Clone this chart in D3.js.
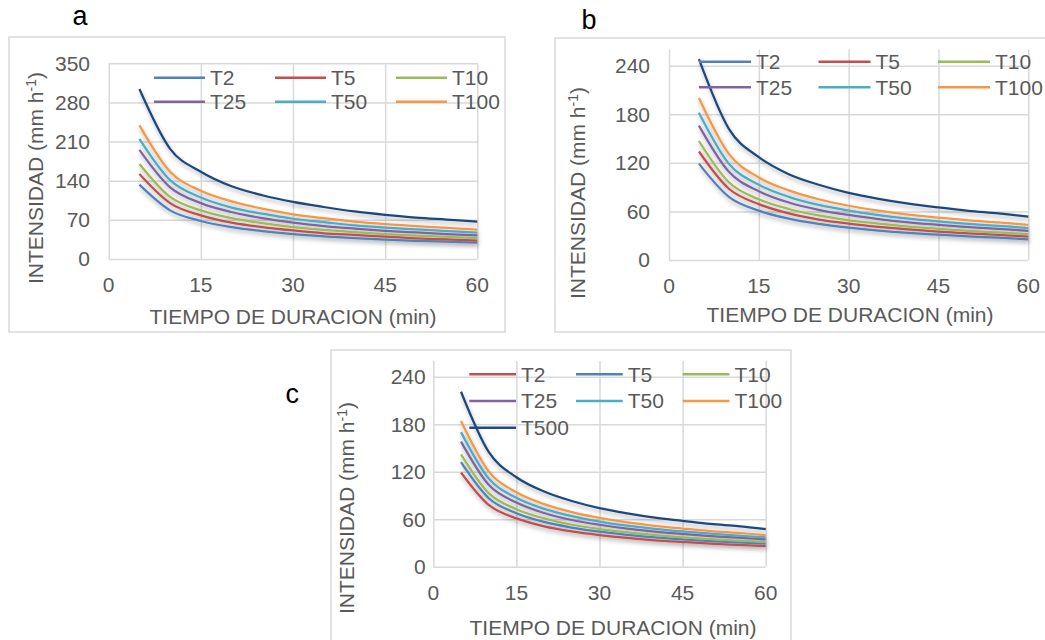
<!DOCTYPE html>
<html>
<head>
<meta charset="utf-8">
<script src="https://cdn.jsdelivr.net/npm/d3@7"></script>
<style>
  body { margin: 0; background: #fff; }
  svg { display: block; font-family: "Liberation Sans", Arial, sans-serif; }
</style>
</head>
<body>
<div id="chart-area"></div>
<script>
// durations (min) at which intensities were plotted
var durations = [5, 10, 15, 20, 25, 30, 35, 40, 45, 50, 55, 60]
var seriesNames = ["T2", "T5", "T10", "T25", "T50", "T100", "T500"]

// panel a, one row per return period (same order as seriesNames)
var intensityA = [
    [133, 87, 68, 57, 50, 44.6, 40.6, 37.4, 34.8, 32.6, 30.9, 29.4],
    [152, 100, 78, 65, 57, 51, 46, 43, 40, 37, 35, 33],
    [170, 111, 87, 73, 64, 57, 52, 48, 44.5, 42, 39.5, 37.5],
    [195, 128, 100, 84, 73, 65, 59, 54.5, 50.5, 47.5, 44.7, 42.3],
    [215, 141, 110, 92, 81, 72, 66, 60, 56, 53, 50, 47],
    [239, 156, 122, 103, 90, 80, 73, 67, 62.5, 59, 55.5, 52.5],
    [304, 197, 156, 130, 114, 102, 93, 85, 79, 74, 70.5, 67]
]
var intensityB = [
    [119, 78, 61, 51, 44.6, 40, 36.3, 33.4, 31.2, 29.2, 27.6, 25.6],
    [134, 88, 69, 57.5, 50, 45, 41, 37.7, 35, 33, 31, 29],
    [147, 96, 75, 63, 55, 49, 45, 41.3, 38.5, 36, 34, 32],
    [166, 109, 85, 71, 62, 55.6, 50.6, 46.6, 43.5, 40.7, 38.5, 36],
    [182, 119, 93, 78, 68, 61, 55.5, 51, 47.7, 44.6, 42.2, 39.5],
    [200, 131, 102, 86, 75, 67, 61, 56, 52.4, 49, 46.4, 43.5],
    [248, 162, 127, 106, 93, 83, 75.6, 69.7, 65, 60.8, 57.5, 53.5]
]
var intensityC = [
    [119, 78, 61, 51, 44.6, 40, 36.3, 33.4, 31.2, 29.2, 27.6, 26],
    [132, 86.5, 67.6, 56.6, 49.5, 44.2, 40.3, 37, 34.6, 32.3, 30.6, 29.3],
    [142, 93, 72.7, 61, 53, 47.6, 43.3, 40, 37.2, 34.8, 33, 31.5],
    [158, 103.5, 81, 67.8, 59, 53, 48.2, 44.4, 41.4, 38.7, 36.6, 34.6],
    [170, 111.5, 87, 73, 63.8, 57, 51.9, 47.8, 44.5, 41.7, 39.4, 37],
    [184, 120.5, 94, 79, 69, 61.6, 56, 51.7, 48.2, 45, 42.7, 40],
    [221, 145, 113, 95, 83, 74, 67.4, 62, 58, 54, 51.3, 47.6]
]

var xTicks = [0, 15, 30, 45, 60]
var yTicksA = [0, 70, 140, 210, 280, 350]
var yTicksBC = [0, 60, 120, 180, 240]
var legendAB = ["T2", "T5", "T10", "T25", "T50", "T100"]
var legendC = ["T2", "T5", "T10", "T25", "T50", "T100", "T500"]

var colorsAB = ["#4F81BD", "#C0504D", "#9BBB59", "#8064A2", "#4BACC6", "#F79646", "#1F497D"]
var colorsC = ["#C0504D", "#4F81BD", "#9BBB59", "#8064A2", "#4BACC6", "#F79646", "#1F497D"]

var gridColor = "#D9D9D9"
var textColor = "#595959"
var fontSize = 21

var svg = d3.select("#chart-area")
    .append("svg")
    .attr("width", 1045)
    .attr("height", 640)

var defs = svg.append("defs")
var shadow = defs.append("filter")
    .attr("id", "shadow")
    .attr("x", "-10%").attr("y", "-20%")
    .attr("width", "130%").attr("height", "160%")
shadow.append("feGaussianBlur").attr("in", "SourceAlpha").attr("stdDeviation", 2)
shadow.append("feOffset").attr("dx", 1).attr("dy", 3).attr("result", "off")
shadow.append("feComponentTransfer").append("feFuncA").attr("type", "linear").attr("slope", 0.3)
var merge = shadow.append("feMerge")
merge.append("feMergeNode")
merge.append("feMergeNode").attr("in", "SourceGraphic")

var panels = [
    {
        letter: "a", letterX: 72.5, letterY: 25,
        frame: [9, 37, 496, 295],
        left: 108.7, right: 477.3, top: 63.3, bottom: 259, yMax: 350,
        yTicks: yTicksA, yTickX: 90,
        xTitle: [293, 317], yTitle: [36, 178],
        data: intensityA, colors: colorsAB, legend: legendAB,
        legX: 154, legStep: 121, legY: 77.7, legRow: 24, legLen: 51
    },
    {
        letter: "b", letterX: 581.5, letterY: 29,
        frame: [555, 38, 500, 294],
        left: 669, right: 1028.3, top: 49.5, bottom: 260, yMax: 260,
        yTicks: yTicksBC, yTickX: 650,
        xTitle: [850, 315], yTitle: [578, 193],
        data: intensityB, colors: colorsAB, legend: legendAB,
        legX: 699, legStep: 119.5, legY: 61.7, legRow: 25.6, legLen: 52
    },
    {
        letter: "c", letterX: 285.5, letterY: 403,
        frame: [331, 350, 460, 300],
        left: 433.3, right: 765.7, top: 360.9, bottom: 566.7, yMax: 260,
        yTicks: yTicksBC, yTickX: 425.7,
        xTitle: [613, 628], yTitle: [347, 508],
        data: intensityC, colors: colorsC, legend: legendC,
        legX: 469.3, legStep: 106.7, legY: 374.3, legRow: 26.7, legLen: 46.7
    }
]

panels.forEach(function(p){
    var g = svg.append("g")

    g.append("rect")
        .attr("x", p.frame[0]).attr("y", p.frame[1])
        .attr("width", p.frame[2]).attr("height", p.frame[3])
        .attr("fill", "#fff")
        .attr("stroke", gridColor)
        .attr("stroke-width", 1.5)

    g.append("text")
        .attr("x", p.letterX).attr("y", p.letterY)
        .attr("font-size", 27)
        .attr("fill", "#000")
        .text(p.letter)

    var x = d3.scaleLinear().domain([0, 60]).range([p.left, p.right])
    var y = d3.scaleLinear().domain([0, p.yMax]).range([p.bottom, p.top])

    // gridlines
    var xGrid = d3.axisBottom(x).tickValues(xTicks)
        .tickSize(-(p.bottom - p.top)).tickFormat("")
    var yGrid = d3.axisLeft(y).tickValues(p.yTicks)
        .tickSize(-(p.right - p.left)).tickFormat("")

    g.append("g")
        .attr("transform", "translate(0," + p.bottom + ")")
        .call(xGrid)
    g.append("g")
        .attr("transform", "translate(" + p.left + ",0)")
        .call(yGrid)
    g.selectAll(".domain").remove()
    g.selectAll(".tick line")
        .attr("stroke", gridColor)
        .attr("stroke-width", 1.5)

    // tick labels
    g.selectAll(".ylab")
        .data(p.yTicks)
        .enter().append("text")
        .attr("x", p.yTickX)
        .attr("y", function(d){ return y(d) })
        .attr("dy", "0.35em")
        .attr("text-anchor", "end")
        .attr("font-size", fontSize)
        .attr("fill", textColor)
        .text(function(d){ return d })

    g.selectAll(".xlab")
        .data(xTicks)
        .enter().append("text")
        .attr("x", function(d){ return x(d) })
        .attr("y", p.bottom + 25.5)
        .attr("dy", "0.35em")
        .attr("text-anchor", "middle")
        .attr("font-size", fontSize)
        .attr("fill", textColor)
        .text(function(d){ return d })

    // axis titles
    g.append("text")
        .attr("x", p.xTitle[0]).attr("y", p.xTitle[1])
        .attr("dy", "0.35em")
        .attr("text-anchor", "middle")
        .attr("font-size", fontSize)
        .attr("fill", textColor)
        .text("TIEMPO DE DURACION (min)")

    var yt = g.append("text")
        .attr("transform", "translate(" + p.yTitle[0] + "," + p.yTitle[1] + ") rotate(-90)")
        .attr("dy", "0.35em")
        .attr("text-anchor", "middle")
        .attr("font-size", fontSize)
        .attr("fill", textColor)
    yt.append("tspan").text("INTENSIDAD (mm h")
    yt.append("tspan").attr("font-size", 14).attr("dy", "-0.55em").text("-1")
    yt.append("tspan").attr("dy", "0.37em").text(")")

    // series
    var line = d3.line()
        .x(function(d, i){ return x(durations[i]) })
        .y(function(d){ return y(d) })
        .curve(d3.curveCardinal.tension(0))

    g.append("g")
        .attr("filter", "url(#shadow)")
        .selectAll("path")
        .data(p.data)
        .enter().append("path")
        .attr("d", line)
        .attr("fill", "none")
        .attr("stroke", function(d, i){ return p.colors[i] })
        .attr("stroke-width", 2.25)

    // legend
    var leg = g.selectAll(".leg")
        .data(p.legend)
        .enter().append("g")
        .attr("transform", function(d, i){
            return "translate(" + (p.legX + (i % 3) * p.legStep) + "," + (p.legY + Math.floor(i / 3) * p.legRow) + ")"
        })
    leg.append("line")
        .attr("x1", 0).attr("x2", p.legLen)
        .attr("stroke", function(d){ return p.colors[seriesNames.indexOf(d)] })
        .attr("stroke-width", 2.5)
    leg.append("text")
        .attr("x", p.legLen + 5)
        .attr("dy", "0.35em")
        .attr("font-size", fontSize)
        .attr("fill", textColor)
        .text(function(d){ return d })
})
</script>
</body>
</html>
